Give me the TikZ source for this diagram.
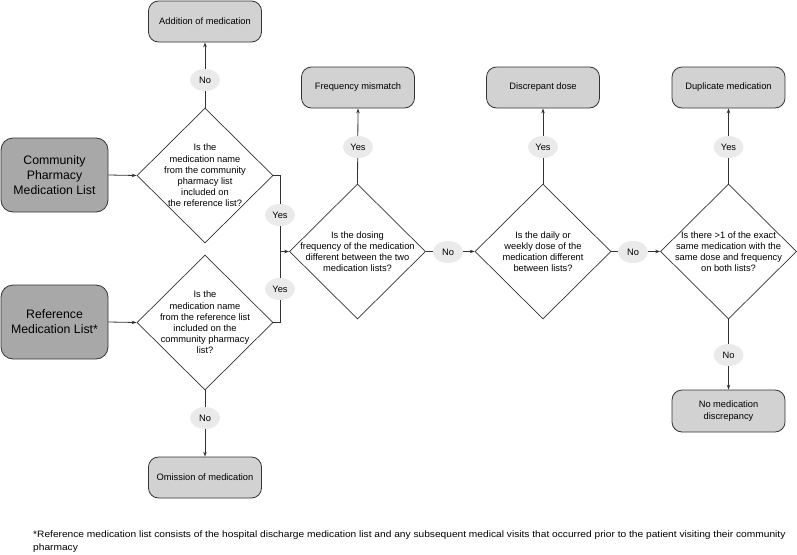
\documentclass[tikz,border=0pt]{standalone}
\usepackage{fontspec}
\setmainfont{Liberation Sans}
\usetikzlibrary{shapes.geometric,arrows.meta}
\definecolor{linec}{HTML}{333333}
\definecolor{inputfill}{HTML}{A8A8A8}
\definecolor{outfill}{HTML}{D2D2D2}
\definecolor{labfill}{HTML}{EAEAEA}
\tikzset{
  inbox/.style={draw=linec, line width=0.8pt, fill=inputfill, rounded corners=12pt,
    minimum width=107pt, minimum height=74pt, inner sep=0pt, align=center,
    font=\fontsize{12.3}{15}\selectfont},
  outbox/.style={draw=linec, line width=0.8pt, fill=outfill, rounded corners=10pt,
    minimum width=113pt, minimum height=41pt, inner sep=0pt, align=center,
    font=\fontsize{9.3}{11.5}\selectfont},
  dia/.style={draw=linec, line width=0.7pt, fill=white, shape=diamond, inner sep=0pt,
    minimum width=136pt, minimum height=135pt},
  dtext/.style={align=center, inner sep=0pt, font=\fontsize{9.3}{11.2}\selectfont},
  lab/.style={fill=labfill, shape=ellipse, minimum width=30pt, minimum height=22pt,
    inner sep=0pt, font=\fontsize{9.3}{11}\selectfont},
  conn/.style={draw=linec, line width=0.8pt},
  arr/.style={conn, -{Stealth[length=5pt,width=3.5pt]}},
}
\begin{document}
\begin{tikzpicture}[x=1pt,y=-1pt]
\useasboundingbox (0,0) rectangle (797,554);
% input boxes
\node[inbox] (cp) at (54.5,175) {Community\\Pharmacy\\Medication List};
\node[inbox] (rf) at (54.5,322) {Reference\\Medication List*};
% diamonds
\node[dia] (d1) at (205,175.5) {};
\node[dtext] at (d1.center) {Is the\\medication name\\from the community\\pharmacy list\\included on\\the reference list?};
\node[dia] (d2) at (205,322.5) {};
\node[dtext] at (d2.center) {Is the\\medication name\\from the reference list\\included on the\\community pharmacy\\list?};
\node[dia] (d3) at (357.5,251.5) {};
\node[dtext] at (d3.center) {Is the dosing\\frequency of the medication\\different between the two\\medication lists?};
\node[dia] (d4) at (543,251.5) {};
\node[dtext] at (d4.center) {Is the daily or\\weekly dose of the\\medication different\\between lists?};
\node[dia] (d5) at (728.5,251.5) {};
\node[dtext] at (d5.center) {Is there >1 of the exact\\same medication with the\\same dose and frequency\\on both lists?};
% outcome boxes
\node[outbox] (add) at (205,21.5) {Addition of medication};
\node[outbox] (om) at (205,477.5) {Omission of medication};
\node[outbox] (fm) at (358,87.5) {Frequency mismatch};
\node[outbox] (dd) at (543,87.5) {Discrepant dose};
\node[outbox] (dup) at (728.5,87.5) {Duplicate medication};
\node[outbox, minimum height=42pt] (nmd) at (728.5,411) {No medication\\discrepancy};
% connectors
\coordinate (j) at (280,251.5);
\draw[arr] (cp.east) -- (d1.west);
\draw[arr] (rf.east) -- (d2.west);
\draw[arr] (d1.north) -- (add.south);
\draw[arr] (d2.south) -- (om.north);
\draw[conn] (d1.east) -| (j);
\draw[conn] (d2.east) -| (j);
\draw[arr] (j) -- (d3.west);
\draw[arr] (d3.north) -- (fm.south);
\draw[arr] (d4.north) -- (dd.south);
\draw[arr] (d5.north) -- (dup.south);
\draw[arr] (d3.east) -- (d4.west);
\draw[arr] (d4.east) -- (d5.west);
\draw[arr] (d5.south) -- (nmd.north);
% labels
\node[lab] (l1) at (205,80) {No};
\node[lab] (l2) at (205,418) {No};
\node[lab] (l3) at (280,215) {Yes};
\node[lab] (l4) at (280,289) {Yes};
\node[lab] (l5) at (358,147) {Yes};
\node[lab] (l6) at (543,147) {Yes};
\node[lab] (l7) at (728.5,147) {Yes};
\node[lab] (l8) at (448,252) {No};
\node[lab] (l9) at (633,252) {No};
\node[lab] (l10) at (728.5,355) {No};
% footnote
\node[anchor=north west, align=left, inner sep=0pt, font=\fontsize{9.3}{13}\selectfont] (fn) at (33,531)
  {\scalebox{1.095}[1]{*Reference medication list consists of the hospital discharge medication list and any subsequent medical visits that occurred prior to the patient visiting their community}\\\scalebox{1.095}[1]{pharmacy}};
\end{tikzpicture}
\end{document}
